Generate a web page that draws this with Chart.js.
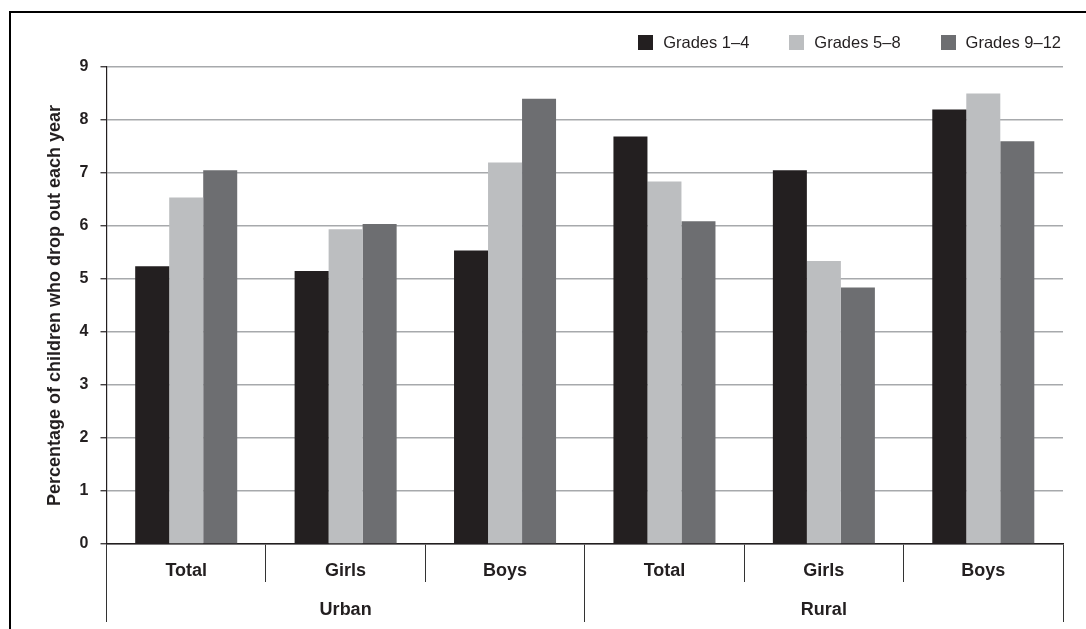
<!DOCTYPE html>
<html>
<head>
<meta charset="utf-8">
<script src="https://cdn.jsdelivr.net/npm/chart.js@4.4.1/dist/chart.umd.min.js"></script>
<style>
  html, body { margin: 0; padding: 0; background: #fff; }
  #wrap { position: relative; width: 1086px; height: 629px; overflow: hidden; background: #fff; }
  #frame { position: absolute; left: 9px; top: 11px; width: 1200px; height: 800px;
           border-top: 2.5px solid #000; border-left: 2px solid #000; }
  #c { position: absolute; left: 0; top: 0; }
  #legend { position: absolute; right: 25px; top: 31px; display: flex; align-items: center;
            font-family: 'Liberation Sans', Arial, sans-serif;
            font-size: 16.5px; color: #231f20; line-height: 22px; }
  #legend .item { display: flex; align-items: center; margin-left: 40px; }
  #legend .item:first-child { margin-left: 0; }
  #legend .sw { width: 15px; height: 15px; margin-right: 10px; }
</style>
</head>
<body>
<div id="wrap">
  <div id="frame"></div>
  <canvas id="c" width="1086" height="629"></canvas>
  <div id="legend"></div>
</div>
<script>
// ---- data ----
const categories = ['Total', 'Girls', 'Boys', 'Total', 'Girls', 'Boys'];
const groups = ['Urban', 'Rural'];
const seriesNames = ['Grades 1\u20134', 'Grades 5\u20138', 'Grades 9\u201312'];
const grades1to4 = [5.24, 5.15, 5.54, 7.69, 7.05, 8.20];
const grades5to8 = [6.54, 5.94, 7.20, 6.84, 5.34, 8.50];
const grades9to12 = [7.05, 6.04, 8.40, 6.09, 4.84, 7.60];
const yTickValues = [0, 1, 2, 3, 4, 5, 6, 7, 8, 9];
const yTitle = 'Percentage of children who drop out each year';

// ---- style ----
const FONT = "'Liberation Sans', Arial, sans-serif";
const colors = ['#231f20', '#bcbec0', '#6d6e71'];
const ink = '#231f20';

const seriesValues = [grades1to4, grades5to8, grades9to12];
const datasets = seriesNames.map((name, i) => ({
  label: name,
  data: seriesValues[i],
  backgroundColor: colors[i],
  borderWidth: 0,
  xAxisID: 'x',
  yAxisID: 'y'
}));

const chart = new Chart(document.getElementById('c'), {
  type: 'bar',
  data: { labels: categories, datasets: datasets },
  options: {
    responsive: false,
    animation: false,
    devicePixelRatio: 1,
    layout: { padding: { left: 40, right: 23, top: 67, bottom: 2 } },
    datasets: { bar: { barPercentage: 1.0, categoryPercentage: 0.64 } },
    plugins: {
      legend: { display: false },
      tooltip: { enabled: false }
    },
    scales: {
      x: {
        type: 'category',
        position: 'bottom',
        offset: true,
        grid: { offset: true, drawOnChartArea: false, drawTicks: true, tickLength: 38,
                color: '#333', lineWidth: 1 },
        border: { display: true, color: ink, width: 1.5 },
        ticks: { padding: -22, autoSkip: false, maxRotation: 0, color: ink,
                 font: { family: FONT, size: 18, weight: 'bold' } },
        afterFit: (s) => { s.height = 38; }
      },
      x2: {
        type: 'category',
        labels: groups,
        position: 'bottom',
        weight: 1,
        offset: true,
        grid: { offset: true, drawOnChartArea: false, drawTicks: true, tickLength: 40,
                color: '#333', lineWidth: 1 },
        border: { display: false },
        ticks: { padding: -23, autoSkip: false, maxRotation: 0, color: ink,
                 font: { family: FONT, size: 18, weight: 'bold' } },
        afterFit: (s) => { s.height = 45; }
      },
      y: {
        min: 0,
        max: 9,
        afterBuildTicks: (axis) => { axis.ticks = yTickValues.map(v => ({ value: v })); },
        ticks: { padding: 12, color: ink, font: { family: FONT, size: 16, weight: 'bold' } },
        grid: { color: '#a7a9ac', lineWidth: 1.5, drawTicks: true, tickLength: 6, tickColor: ink, tickWidth: 1.2 },
        border: { display: true, color: ink, width: 1.2 },
        title: { display: true, text: yTitle, color: ink, padding: { top: 4, bottom: 2 },
                 font: { family: FONT, size: 18, weight: 'bold' } }
      }
    }
  }
});

// HTML legend built from the chart's datasets
const legendEl = document.getElementById('legend');
chart.data.datasets.forEach(ds => {
  const item = document.createElement('div');
  item.className = 'item';
  const sw = document.createElement('span');
  sw.className = 'sw';
  sw.style.background = ds.backgroundColor;
  const tx = document.createElement('span');
  tx.textContent = ds.label;
  item.appendChild(sw);
  item.appendChild(tx);
  legendEl.appendChild(item);
});
</script>
</body>
</html>
